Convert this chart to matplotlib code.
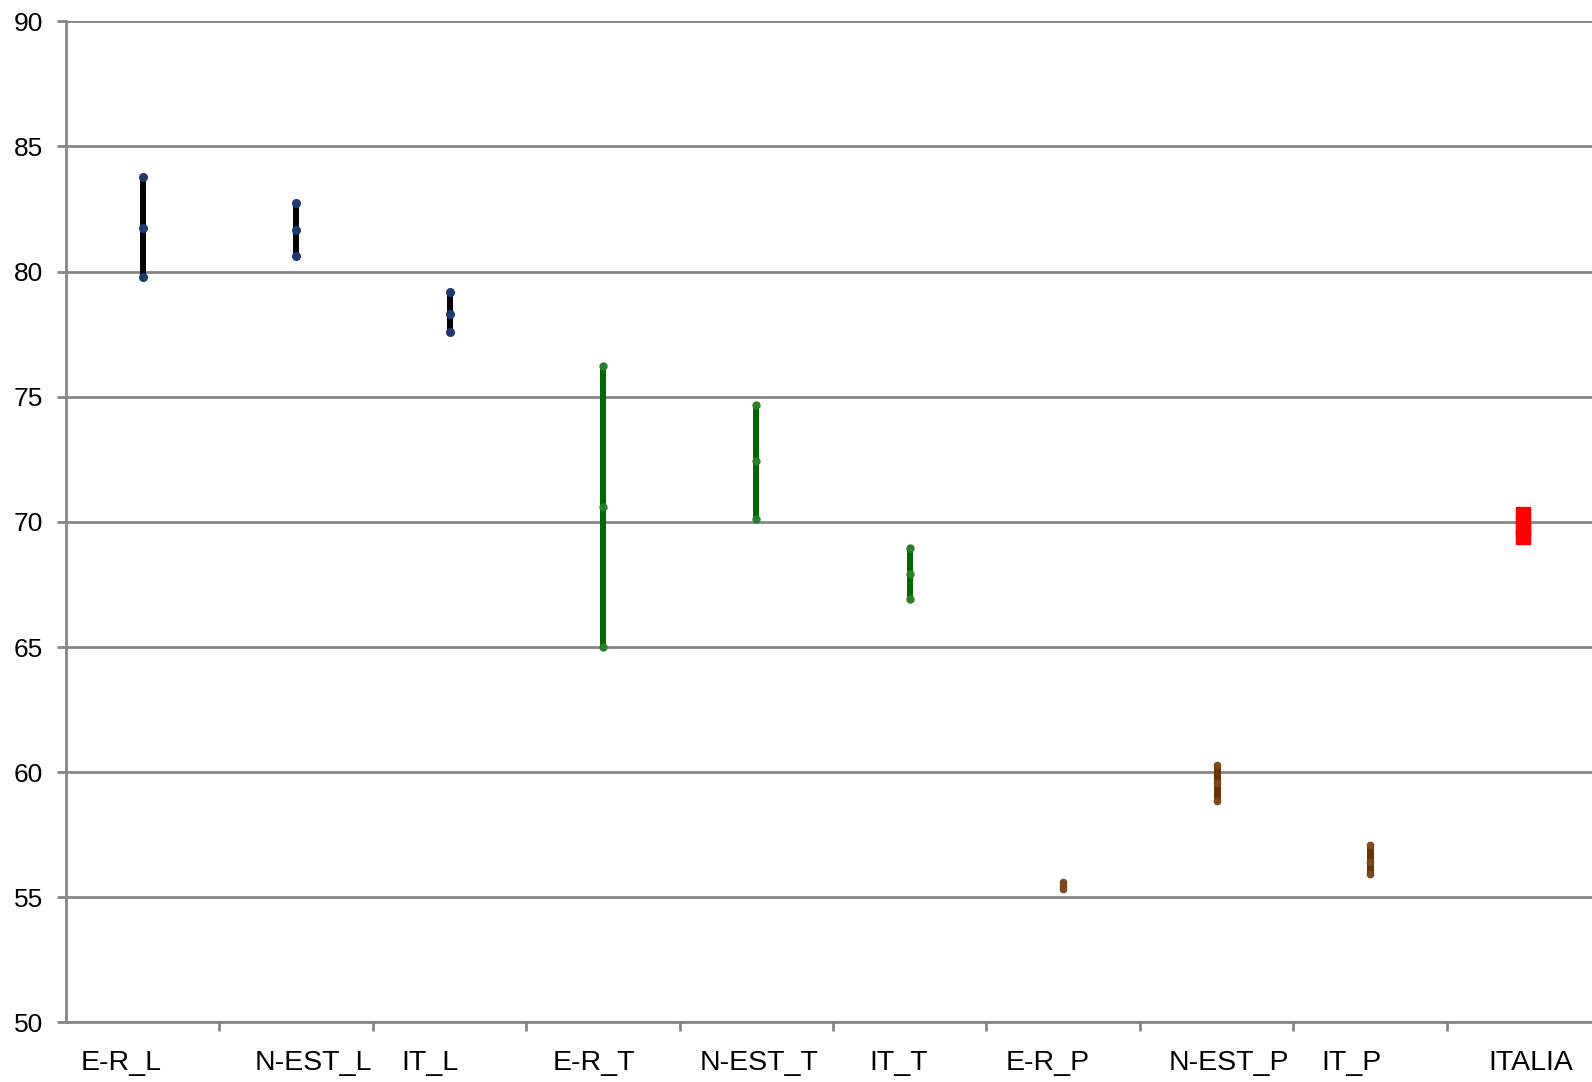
import numpy as np
import matplotlib.pyplot as plt

# categories and high / mid / low values
categories = ["E-R_L", "N-EST_L", "IT_L", "E-R_T", "N-EST_T", "IT_T",
              "E-R_P", "N-EST_P", "IT_P", "ITALIA"]
high = [83.77, 82.74, 79.17, 76.24, 74.66, 68.95, 55.60, 60.30, 57.10, 70.30]
mid = [81.75, 81.66, 78.32, 70.60, 72.43, 67.92, 55.45, 59.55, 56.40, 69.70]
low = [79.80, 80.62, 77.60, 65.00, 70.12, 66.92, 55.35, 58.85, 55.95, 69.40]

# the original program nudges each category label a little off centre
label_shift = [-0.14, 0.11, -0.13, -0.06, 0.02, -0.07, -0.10, 0.08, -0.12, 0.05]

# one style per group: (line colour, marker colour, line width, marker, marker size)
group_of = ["L", "L", "L", "T", "T", "T", "P", "P", "P", "IT"]
styles = {
    "L": ("#000000", "#1F3A6E", 4.3, "o", 5.5),
    "T": ("#006600", "#2A7F2A", 4.3, "o", 5.0),
    "P": ("#663300", "#7A4A1E", 5.0, "o", 4.5),
    "IT": ("#FF0000", "#FF0000", 11.0, "s", 10.5),
}

plt.rcParams['font.family'] = ['Liberation Sans', 'DejaVu Sans']

fig = plt.figure(figsize=(15.92, 10.82), dpi=100)
ax = fig.add_axes([0.0415, 0.055, 0.9636, 0.9253])

x = np.arange(1, len(categories) + 1)
for xi, h, m, l, g in zip(x, high, mid, low, group_of):
    lc, mc, lw, mk, ms = styles[g]
    ax.plot([xi, xi], [l, h], color=lc, lw=lw, solid_capstyle="butt", zorder=3)
    ax.plot([xi, xi, xi], [h, m, l], ls="none", marker=mk, ms=ms,
            color=mc, mec=mc, zorder=4)

ax.set_xlim(0.5, len(categories) + 0.5)
ax.set_ylim(50, 90)
ax.set_yticks(np.arange(50, 91, 5))

# ticks between categories, labels as text under each category
ax.set_xticks(np.arange(1.5, len(categories), 1.0))
ax.set_xticklabels([])
for xi, name, dx in zip(x, categories, label_shift):
    ax.text(xi + dx, -0.027, name, transform=ax.get_xaxis_transform(),
            ha="center", va="top", fontsize=20.5)
ax.tick_params(axis="x", which="major", length=6.5, width=2, color="#868686")
ax.tick_params(axis="y", length=6.5, width=2, color="#868686", labelsize=19, pad=10)

ax.grid(axis="y", color="#868686", lw=2)
ax.set_axisbelow(True)
for side in ("top", "right"):
    ax.spines[side].set_visible(False)
for side in ("left", "bottom"):
    ax.spines[side].set_color("#868686")
    ax.spines[side].set_linewidth(2)

fig.savefig("out.png", dpi=100)
